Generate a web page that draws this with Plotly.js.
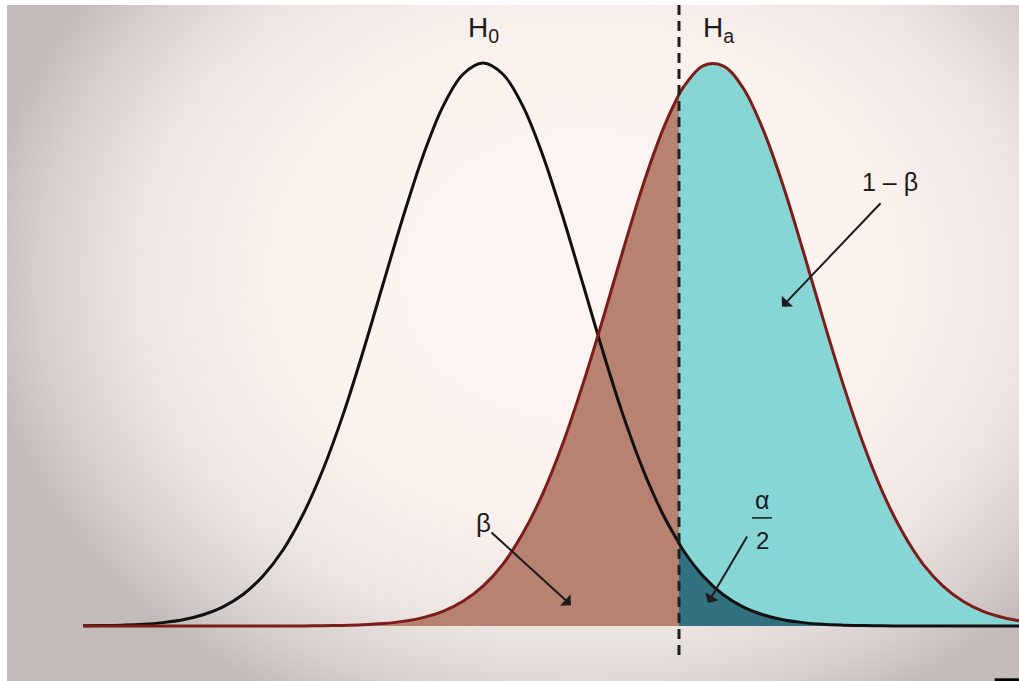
<!DOCTYPE html>
<html>
<head>
<meta charset="utf-8">
<script src="https://cdn.plot.ly/plotly-3.0.1.min.js"></script>
<style>
  html, body { margin: 0; padding: 0; background: #ffffff; width: 1019px; height: 681px; overflow: hidden; }
  #frame {
    position: absolute; left: 7px; top: 5px; width: 1012px; height: 676px;
    background: radial-gradient(ellipse 60% 72% at 57% 40%, #fdf5f2 0%, #fbf2ee 50%, #ede5e2 74%, #d6cecc 90%, #c2bbb9 100%);
  }
  #plot { width: 1012px; height: 676px; }
</style>
</head>
<body>
<div id="frame"><div id="plot"></div></div>
<script>
// z 网格（标准差单位），H0 均值 0，Ha 均值约 2.3
const zGrid = [-4.0, -3.8, -3.6, -3.4, -3.2, -3.0, -2.8, -2.6, -2.4, -2.2,
               -2.0, -1.8, -1.6, -1.4, -1.2, -1.0, -0.8, -0.6, -0.4, -0.2,
               0, 0.2, 0.4, 0.6, 0.8, 1.0, 1.2, 1.4, 1.6, 1.8, 1.96,
               2.0, 2.2, 2.4, 2.6, 2.8, 3.0, 3.2, 3.4, 3.6, 3.8, 4.0,
               4.2, 4.4, 4.6, 4.8, 5.0, 5.2, 5.4];

// 曲线高度（相对峰值）
const h0Height = [0.0003, 0.0007, 0.0015, 0.003, 0.006, 0.011, 0.020, 0.034, 0.056, 0.089,
                  0.135, 0.198, 0.278, 0.375, 0.487, 0.607, 0.726, 0.835, 0.923, 0.980,
                  1.000, 0.980, 0.923, 0.835, 0.726, 0.607, 0.487, 0.375, 0.278, 0.198, 0.147,
                  0.135, 0.089, 0.056, 0.034, 0.020, 0.011, 0.006, 0.003, 0.0015, 0.0007, 0.0003,
                  0.0001, 0, 0, 0, 0, 0, 0];

const haHeight = [0, 0, 0, 0, 0, 0, 0, 0, 0, 0,
                  0.0001, 0.0002, 0.0005, 0.0011, 0.0022, 0.0043, 0.0082, 0.0149, 0.0261, 0.0439,
                  0.071, 0.110, 0.165, 0.236, 0.325, 0.430, 0.546, 0.667, 0.783, 0.882, 0.944,
                  0.956, 0.995, 0.995, 0.956, 0.882, 0.783, 0.667, 0.546, 0.430, 0.325, 0.236,
                  0.165, 0.110, 0.071, 0.044, 0.026, 0.015, 0.008];

const criticalZ = 1.96;

const COLORS = {
    beta: '#b7826f',
    power: '#86d6d6',
    alpha: '#327180',
    h0Line: '#111111',
    haLine: '#7c1d19',
    ink: '#1c1c1c'
};

// 按临界值切分
function slice(ys, keep) {
    const xs = [], out = [];
    zGrid.forEach((z, i) => { if (keep(z)) { xs.push(z); out.push(ys[i]); } });
    return { x: xs, y: out };
}

const betaPart = slice(haHeight, z => z <= criticalZ);
const powerPart = slice(haHeight, z => z >= criticalZ);
const alphaPart = slice(h0Height, z => z >= criticalZ);

const fillTrace = (part, color) => ({
    x: part.x, y: part.y, type: 'scatter', mode: 'lines',
    line: { width: 0, shape: 'spline', color: color },
    fill: 'tozeroy', fillcolor: color, hoverinfo: 'skip'
});

const traces = [
    fillTrace(betaPart, COLORS.beta),
    fillTrace(powerPart, COLORS.power),
    fillTrace(alphaPart, COLORS.alpha),
    { x: zGrid, y: h0Height, type: 'scatter', mode: 'lines',
      line: { color: COLORS.h0Line, width: 3, shape: 'spline' } },
    { x: zGrid, y: haHeight, type: 'scatter', mode: 'lines',
      line: { color: COLORS.haLine, width: 3, shape: 'spline' } }
];

const FONT = '"Liberation Sans", Arial, Helvetica, sans-serif';
const label = (text, x, y, size) => ({
    x, y, text, showarrow: false, xanchor: 'center', yanchor: 'middle',
    font: { family: FONT, size, color: COLORS.ink }
});
const arrow = (x, y, ax, ay) => ({
    x, y, ax, ay, text: '', showarrow: true,
    arrowhead: 1, arrowsize: 1.3, arrowwidth: 2, arrowcolor: COLORS.ink
});

const layout = {
    width: 1012, height: 676,
    margin: { l: 0, r: 0, t: 0, b: 0 },
    paper_bgcolor: 'rgba(0,0,0,0)', plot_bgcolor: 'rgba(0,0,0,0)',
    showlegend: false,
    xaxis: { range: [-4.76, 5.36], visible: false, fixedrange: true },
    yaxis: { range: [-0.0977, 1.103], visible: false, fixedrange: true },
    shapes: [
        { type: 'line', xref: 'x', yref: 'y', x0: criticalZ, x1: criticalZ, y0: 1.103, y1: -0.052,
          line: { color: '#1e1e1e', width: 3, dash: '10px,6px' } },
        { type: 'line', xref: 'x', yref: 'y', x0: 2.69, x1: 2.89, y0: 0.192, y1: 0.192,
          line: { color: COLORS.ink, width: 1.5 } },
        { type: 'rect', xref: 'paper', yref: 'paper', x0: 0.976, x1: 1, y0: 0, y1: 0.004,
          fillcolor: '#000', line: { width: 0 } }
    ],
    annotations: [
        label('H<sub>0</sub>', 0.0, 1.059, 28),
        label('H<sub>a</sub>', 2.35, 1.059, 28),
        label('1 – β', 4.07, 0.789, 25),
        label('β', 0.0, 0.183, 26),
        label('α', 2.79, 0.224, 25),
        label('2', 2.79, 0.152, 24),
        arrow(0.88, 0.037, -81, -74),
        arrow(2.99, 0.567, 100, -105),
        arrow(2.25, 0.041, 40, -68)
    ]
};

Plotly.newPlot('plot', traces, layout, { staticPlot: true, displayModeBar: false });
</script>
</body>
</html>
